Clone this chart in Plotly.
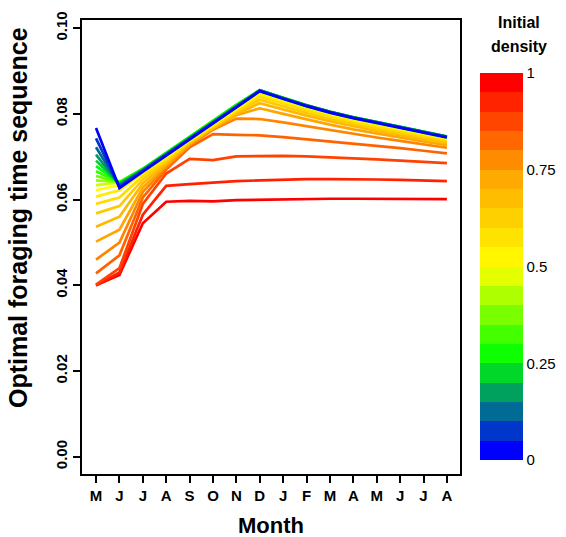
import plotly.graph_objects as go

months = ["M", "J", "J", "A", "S", "O", "N", "D", "J", "F", "M", "A", "M", "J", "J", "A"]
month_pos = list(range(1, 17))
densities = [0.00, 0.05, 0.10, 0.15, 0.20, 0.25, 0.30, 0.35, 0.40, 0.45, 0.50,
             0.55, 0.60, 0.65, 0.70, 0.75, 0.80, 0.85, 0.90, 0.95, 1.00]

d000 = [0.0767, 0.0627, 0.0665, 0.0702, 0.0740, 0.0777, 0.0815, 0.0853, 0.0835, 0.0818, 0.0803, 0.0790, 0.0779, 0.0768, 0.0756, 0.0745]
d005 = [0.0743, 0.0630, 0.0667, 0.0704, 0.0742, 0.0779, 0.0817, 0.0854, 0.0836, 0.0819, 0.0804, 0.0791, 0.0780, 0.0769, 0.0757, 0.0746]
d010 = [0.0722, 0.0633, 0.0668, 0.0705, 0.0743, 0.0780, 0.0818, 0.0854, 0.0836, 0.0819, 0.0804, 0.0791, 0.0780, 0.0769, 0.0757, 0.0746]
d015 = [0.0705, 0.0635, 0.0669, 0.0706, 0.0744, 0.0781, 0.0819, 0.0855, 0.0837, 0.0820, 0.0805, 0.0792, 0.0781, 0.0770, 0.0758, 0.0747]
d020 = [0.0691, 0.0637, 0.0670, 0.0707, 0.0745, 0.0782, 0.0820, 0.0855, 0.0837, 0.0820, 0.0805, 0.0792, 0.0781, 0.0770, 0.0758, 0.0747]
d025 = [0.0678, 0.0639, 0.0671, 0.0708, 0.0746, 0.0783, 0.0821, 0.0855, 0.0837, 0.0820, 0.0805, 0.0792, 0.0781, 0.0770, 0.0758, 0.0747]
d030 = [0.0666, 0.0640, 0.0672, 0.0709, 0.0747, 0.0784, 0.0821, 0.0855, 0.0837, 0.0820, 0.0805, 0.0792, 0.0781, 0.0770, 0.0758, 0.0747]
d035 = [0.0655, 0.0641, 0.0672, 0.0709, 0.0747, 0.0784, 0.0821, 0.0854, 0.0836, 0.0819, 0.0804, 0.0791, 0.0780, 0.0769, 0.0757, 0.0746]
d040 = [0.0645, 0.0641, 0.0671, 0.0708, 0.0746, 0.0783, 0.0820, 0.0853, 0.0835, 0.0818, 0.0803, 0.0790, 0.0779, 0.0768, 0.0756, 0.0745]
d045 = [0.0634, 0.0640, 0.0669, 0.0706, 0.0744, 0.0781, 0.0818, 0.0852, 0.0834, 0.0817, 0.0802, 0.0789, 0.0778, 0.0767, 0.0755, 0.0744]
d050 = [0.0622, 0.0634, 0.0668, 0.0701, 0.0739, 0.0776, 0.0813, 0.0850, 0.0833, 0.0816, 0.0801, 0.0788, 0.0777, 0.0766, 0.0754, 0.0743]
d055 = [0.0607, 0.0622, 0.0662, 0.0697, 0.0738, 0.0774, 0.0810, 0.0846, 0.0829, 0.0813, 0.0798, 0.0785, 0.0774, 0.0763, 0.0752, 0.0742]
d060 = [0.0590, 0.0605, 0.0655, 0.0693, 0.0736, 0.0772, 0.0807, 0.0840, 0.0824, 0.0808, 0.0794, 0.0781, 0.0770, 0.0759, 0.0749, 0.0739]
d065 = [0.0568, 0.0585, 0.0647, 0.0689, 0.0734, 0.0770, 0.0804, 0.0833, 0.0817, 0.0802, 0.0788, 0.0776, 0.0765, 0.0755, 0.0745, 0.0735]
d070 = [0.0537, 0.0560, 0.0638, 0.0685, 0.0732, 0.0768, 0.0800, 0.0825, 0.0810, 0.0796, 0.0783, 0.0771, 0.0760, 0.0750, 0.0740, 0.0731]
d075 = [0.0502, 0.0530, 0.0628, 0.0680, 0.0729, 0.0766, 0.0797, 0.0813, 0.0800, 0.0787, 0.0775, 0.0764, 0.0754, 0.0745, 0.0736, 0.0727]
d080 = [0.0460, 0.0500, 0.0618, 0.0675, 0.0726, 0.0763, 0.0789, 0.0788, 0.0780, 0.0771, 0.0762, 0.0753, 0.0745, 0.0737, 0.0729, 0.0721]
d085 = [0.0428, 0.0470, 0.0605, 0.0670, 0.0722, 0.0753, 0.0751, 0.0750, 0.0746, 0.0741, 0.0736, 0.0731, 0.0726, 0.0720, 0.0714, 0.0708]
d090 = [0.0402, 0.0440, 0.0590, 0.0661, 0.0695, 0.0692, 0.0701, 0.0702, 0.0702, 0.0701, 0.0699, 0.0697, 0.0694, 0.0691, 0.0688, 0.0685]
d095 = [0.0400, 0.0430, 0.0565, 0.0632, 0.0636, 0.0640, 0.0643, 0.0645, 0.0647, 0.0648, 0.0648, 0.0648, 0.0647, 0.0646, 0.0645, 0.0643]
d100 = [0.0400, 0.0424, 0.0545, 0.0595, 0.0597, 0.0596, 0.0599, 0.0600, 0.0601, 0.0601, 0.0602, 0.0602, 0.0602, 0.0602, 0.0602, 0.0601]

series = [d000, d005, d010, d015, d020, d025, d030, d035, d040, d045, d050,
          d055, d060, d065, d070, d075, d080, d085, d090, d095, d100]

y_ticks = [0.00, 0.02, 0.04, 0.06, 0.08, 0.10]
y_tick_labels = ["0.00", "0.02", "0.04", "0.06", "0.08", "0.10"]
cbar_ticks = [0, 0.25, 0.5, 0.75, 1]
cbar_tick_labels = ["0", "0.25", "0.5", "0.75", "1"]

# style: line colours (ramp blue-green-yellow-orange-red, 21 steps)
line_colors = ["#0000FF", "#0033CC", "#006699", "#009966", "#00CC33", "#00FF00",
               "#33FF00", "#66FF00", "#99FF00", "#CCFF00", "#FFFF00", "#FFED00",
               "#FFDB00", "#FFC900", "#FFB700", "#FFA500", "#FF8400", "#FF6300",
               "#FF4200", "#FF2100", "#FF0000"]
# style: colour bar (same ramp, 20 steps)
bar_colors = ["#0000FF", "#0036C9", "#006B94", "#00A15E", "#00D728", "#0DFF00",
              "#43FF00", "#79FF00", "#AEFF00", "#E4FF00", "#FFF600", "#FFE300",
              "#FFD000", "#FFBD00", "#FFAA00", "#FF8B00", "#FF6800", "#FF4500",
              "#FF2300", "#FF0000"]

FONT = "Liberation Sans, Arial, sans-serif"
fig = go.Figure()

for d, vals, col in reversed(list(zip(densities, series, line_colors))):
    fig.add_trace(go.Scatter(
        x=month_pos, y=vals, mode="lines",
        line=dict(color=col, width=2.7),
        name=f"{d:.2f}", showlegend=False, hoverinfo="skip"))

n = len(bar_colors)
cscale = []
for i, c in enumerate(bar_colors):
    cscale.append([i / n, c])
    cscale.append([(i + 1) / n, c])

fig.add_trace(go.Scatter(
    x=[None, None], y=[None, None], mode="markers", showlegend=False,
    marker=dict(color=[0, 1], cmin=0, cmax=1, colorscale=cscale, showscale=True,
                colorbar=dict(thickness=43, thicknessmode="pixels",
                              len=387, lenmode="pixels",
                              x=1.0529, xanchor="left", xpad=0,
                              y=0.457, yanchor="middle", ypad=0,
                              outlinewidth=0, ticks="",
                              tickvals=cbar_ticks, ticktext=cbar_tick_labels,
                              tickfont=dict(family=FONT, size=15, color="black")))))

fig.update_layout(
    width=566, height=537,
    margin=dict(l=82, r=106, t=20, b=63),
    paper_bgcolor="white", plot_bgcolor="white",
    font=dict(family=FONT, color="black"),
    xaxis=dict(range=[0.4, 16.56], tickvals=month_pos, ticktext=months,
               showgrid=False, zeroline=False, showline=True, mirror=True,
               linecolor="black", linewidth=1.5, ticks="outside", ticklen=7,
               tickwidth=1.5, tickcolor="black",
               tickfont=dict(family=FONT, size=15, color="black", weight="bold")),
    yaxis=dict(range=[-0.004, 0.1019], tickvals=y_ticks, ticktext=y_tick_labels,
               showgrid=False, zeroline=False, showline=True, mirror=True,
               linecolor="black", linewidth=1.5, ticks="outside", ticklen=7,
               tickwidth=1.5, tickcolor="black", tickangle=-90,
               tickfont=dict(family=FONT, size=15, color="black", weight="bold")),
)

annotations = [
    dict(text="<b>Month</b>", x=0.5, y=525, font_size=22),
    dict(text="<b>Optimal foraging time sequence</b>", x=18, y=218, font_size=25, textangle=-90),
    dict(text="<b>Initial</b>", x=519, y=22, font_size=16),
    dict(text="<b>density</b>", x=519, y=46, font_size=16),
]
for a in annotations:
    px_x = a["x"]
    xp = 0.5 if px_x == 0.5 else (px_x - 82) / 378
    yp = (474 - a["y"]) / 454
    fig.add_annotation(text=a["text"], x=xp, y=yp, xref="paper", yref="paper",
                       showarrow=False, xanchor="center", yanchor="middle",
                       textangle=a.get("textangle", 0),
                       font=dict(family=FONT, size=a["font_size"], color="black"))

fig.write_html("out.html", config={"displayModeBar": False},
               post_script="document.body.style.margin='0';document.body.style.padding='0';")
